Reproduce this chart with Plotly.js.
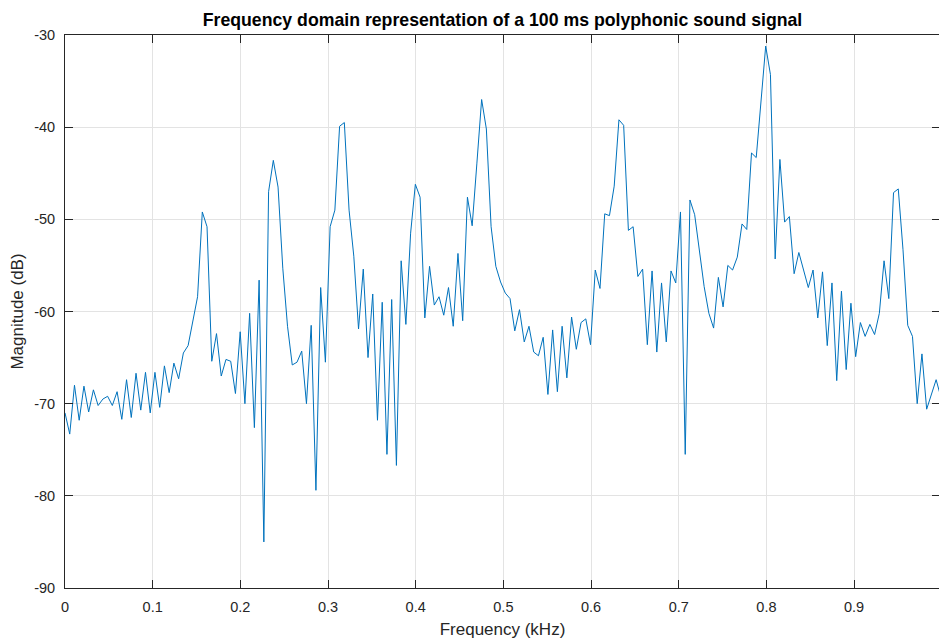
<!DOCTYPE html>
<html>
<head>
<meta charset="utf-8">
<script src="https://cdn.plot.ly/plotly-3.0.1.min.js"></script>
<style>
  html, body { margin: 0; padding: 0; overflow: hidden; background: #ffffff; }
  #chart { width: 950px; height: 639px; }
</style>
</head>
<body>
<div id="chart"></div>
<script>
// Spectrum bins: first bin at 0 kHz, evenly spaced by FREQ_STEP_KHZ
const FREQ_START_KHZ = 0;
const FREQ_STEP_KHZ = 0.0054;

// Magnitude of each bin (dB)
const magnitudeDb = [
  -71.0, -73.3, -68.0, -71.8, -68.1, -70.9, -68.5, -70.2, -69.5, -69.2,
  -70.2, -68.7, -71.7, -67.4, -71.5, -66.7, -70.7, -66.6, -71.0, -66.6,
  -70.4, -65.9, -68.8, -65.6, -67.3, -64.5, -63.7, -61.0, -58.4, -49.2,
  -50.8, -65.4, -62.4, -67.0, -65.2, -65.4, -68.9, -62.2, -70.0, -60.2,
  -72.6, -56.6, -85.0, -47.0, -43.6, -46.5, -55.3, -61.6, -65.8, -65.5,
  -64.3, -70.0, -61.5, -79.4, -57.4, -65.5, -50.8, -49.0, -39.9, -39.5,
  -49.0, -54.0, -61.9, -55.4, -65.0, -58.1, -71.8, -59.0, -75.5, -58.7,
  -76.7, -54.5, -61.4, -51.5, -46.2, -47.6, -60.7, -55.1, -59.3, -58.4,
  -60.4, -57.4, -61.6, -53.7, -61.0, -47.6, -50.7, -43.9, -37.0, -40.2,
  -50.8, -55.1, -56.8, -58.0, -58.6, -62.1, -59.8, -63.3, -61.6, -64.4,
  -64.8, -62.8, -69.0, -62.0, -68.7, -61.6, -67.2, -60.6, -64.1, -61.2,
  -60.8, -63.6, -55.5, -57.5, -49.4, -49.6, -46.4, -39.2, -39.8, -51.2,
  -50.8, -56.2, -55.4, -63.6, -55.6, -64.4, -56.9, -63.3, -55.6, -56.9,
  -49.2, -75.5, -47.9, -49.5, -53.7, -57.3, -60.2, -61.8, -56.3, -59.5,
  -55.0, -55.5, -54.1, -50.5, -51.1, -42.8, -43.3, -37.6, -31.2, -34.3,
  -54.3, -43.5, -50.3, -49.7, -55.9, -53.6, -55.5, -57.4, -55.5, -60.7,
  -55.7, -63.7, -56.9, -67.5, -57.8, -66.3, -59.1, -64.9, -61.2, -62.7,
  -61.4, -62.5, -60.2, -54.5, -58.6, -47.1, -46.7, -53.3, -61.5, -62.7,
  -70.0, -64.6, -70.6, -68.9, -67.4, -69.3
];

// Axis ticks
const xTickVals = [0, 0.1, 0.2, 0.3, 0.4, 0.5, 0.6, 0.7, 0.8, 0.9];
const xTickText = ['0', '0.1', '0.2', '0.3', '0.4', '0.5', '0.6', '0.7', '0.8', '0.9'];
const yTickVals = [-90, -80, -70, -60, -50, -40, -30];
const yTickText = ['-90', '-80', '-70', '-60', '-50', '-40', '-30'];

const FONT = 'Liberation Sans, Arial, Helvetica, sans-serif';
const INK = '#262626';
const GRID = '#e3e3e3';

const trace = {
  type: 'scatter',
  mode: 'lines',
  x0: FREQ_START_KHZ,
  dx: FREQ_STEP_KHZ,
  y: magnitudeDb,
  line: { color: '#0072BD', width: 1 },
  hoverinfo: 'x+y'
};

const axisCommon = {
  showline: true,
  linecolor: INK,
  linewidth: 1,
  mirror: 'ticks',
  ticks: 'inside',
  ticklen: 8,
  tickwidth: 1,
  tickcolor: INK,
  showgrid: true,
  gridcolor: GRID,
  gridwidth: 1,
  zeroline: false,
  tickmode: 'array',
  tickfont: { family: FONT, size: 14.5, color: INK }
};

const layout = {
  width: 950,
  height: 639,
  margin: { l: 65, r: 10, t: 35, b: 51 },
  paper_bgcolor: '#ffffff',
  plot_bgcolor: '#ffffff',
  showlegend: false,
  title: {
    text: '<b>Frequency domain representation of a 100 ms polyphonic sound signal</b>',
    font: { family: FONT, size: 17.7, color: '#000000' },
    x: 0.5,
    xref: 'paper',
    xanchor: 'center',
    y: 0.969,
    yref: 'container',
    yanchor: 'middle'
  },
  xaxis: Object.assign({}, axisCommon, {
    range: [0, 0.998],
    tickvals: xTickVals,
    ticktext: xTickText,
    ticklabelstandoff: 6,
    title: { text: 'Frequency (kHz)', font: { family: FONT, size: 17, color: INK }, standoff: 8 }
  }),
  yaxis: Object.assign({}, axisCommon, {
    range: [-90, -30],
    tickvals: yTickVals,
    ticktext: yTickText,
    ticklabelstandoff: 6,
    title: { text: 'Magnitude (dB)', font: { family: FONT, size: 17, color: INK }, standoff: 6 }
  })
};

Plotly.newPlot('chart', [trace], layout, { displayModeBar: false, staticPlot: true });
</script>
</body>
</html>
